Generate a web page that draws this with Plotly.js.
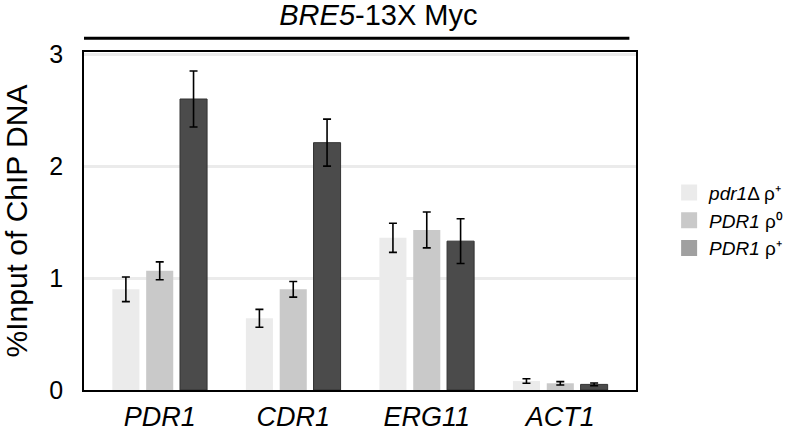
<!DOCTYPE html>
<html><head><meta charset="utf-8">
<script src="https://cdn.plot.ly/plotly-3.0.1.min.js"></script>
<style>body{margin:0;background:#fff}#c{width:800px;height:435px}</style>
</head><body><div id="c"></div>
<script>
const genes = ["PDR1", "CDR1", "ERG11", "ACT1"];
const seriesNames = ["<i>pdr1</i>Δ ρ⁺", "<i>PDR1</i> ρ⁰", "<i>PDR1</i> ρ⁺"];
const pdr1Delta = [0.90, 0.64, 1.36, 0.08];
const pdr1Delta_err = [0.11, 0.08, 0.13, 0.02];
const PDR1rho0 = [1.065, 0.90, 1.43, 0.06];
const PDR1rho0_err = [0.08, 0.07, 0.16, 0.015];
const PDR1rhoPlus = [2.60, 2.21, 1.33, 0.05];
const PDR1rhoPlus_err = [0.25, 0.21, 0.20, 0.012];
const tickLabels = genes.map(g => "<i>" + g + "</i>");

const barColors = ["#ebebeb", "#c9c9c9", "#4b4b4b"];
const legendColors = ["#ebebeb", "#c9c9c9", "#a0a0a0"];
const vals = [pdr1Delta, PDR1rho0, PDR1rhoPlus];
const errs = [pdr1Delta_err, PDR1rho0_err, PDR1rhoPlus_err];

const traces = [];
vals.forEach((v, i) => {
  traces.push({
    type: "bar", x: genes, y: v, showlegend: false,
    marker: {color: barColors[i], line: {color: i === 2 ? "#333" : barColors[i], width: i === 2 ? 1 : 0}},
    error_y: {type: "data", array: errs[i], visible: true, color: "#000", thickness: 1.6, width: 4}
  });
});
seriesNames.forEach((n, i) => {
  traces.push({type: "scatter", mode: "markers", x: [null], y: [null], name: n,
    marker: {color: legendColors[i], symbol: "square", size: 20}, showlegend: true});
});

const layout = {
  width: 800, height: 435,
  margin: {l: 84, r: 145, t: 52, b: 45},
  paper_bgcolor: "#fff", plot_bgcolor: "#fff",
  font: {family: "Liberation Sans, Arial, sans-serif", color: "#000"},
  barmode: "group", bargap: 0.24, bargroupgap: 0.2,
  title: {text: "<i>BRE5</i>-13X Myc", font: {size: 29, color: "#000"}, x: 0.473, xanchor: "center", y: 0.965, yanchor: "middle"},
  xaxis: {
    type: "category", range: [-0.567, 3.567], tickvals: genes, ticktext: tickLabels,
    tickfont: {size: 27}, ticklabelstandoff: 2,
    showline: true, linecolor: "#000", linewidth: 1.5, mirror: true, ticks: "", showgrid: false
  },
  yaxis: {
    range: [0, 3.02], dtick: 1, tickfont: {size: 25}, ticks: "", ticklabelstandoff: 14,
    showgrid: true, gridcolor: "#ebebeb", gridwidth: 3, zeroline: false,
    showline: true, linecolor: "#000", linewidth: 1.5, mirror: true,
    title: {text: "%Input of ChIP DNA", font: {size: 30}, standoff: 20}
  },
  legend: {x: 1.06, xanchor: "left", y: 0.64, yanchor: "top", font: {size: 19}, bgcolor: "rgba(0,0,0,0)", itemwidth: 30},
  shapes: [{type: "line", xref: "paper", yref: "paper", x0: 0, x1: 0.988, y0: 1.041, y1: 1.041, line: {color: "#000", width: 3}}]
};
Plotly.newPlot("c", traces, layout, {displayModeBar: false});
</script></body></html>
